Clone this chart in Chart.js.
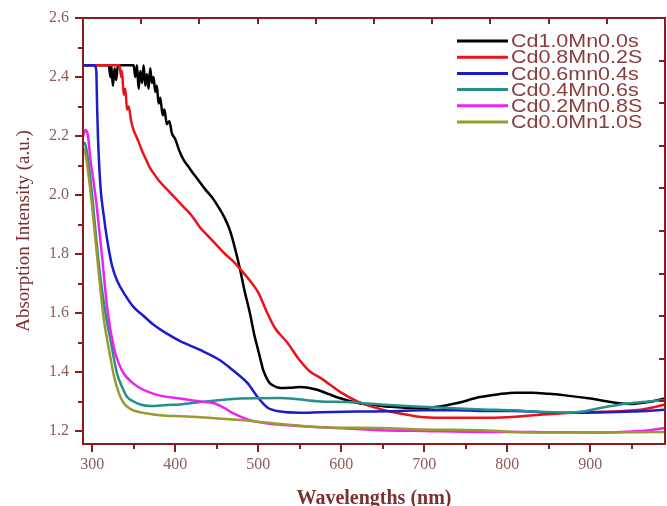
<!DOCTYPE html>
<html><head><meta charset="utf-8">
<script src="https://cdn.jsdelivr.net/npm/chart.js@4.4.1/dist/chart.umd.min.js"></script>
<style>html,body{margin:0;padding:0;background:#fff;}canvas{display:block;}</style>
</head><body>
<canvas id="c" width="667" height="506"></canvas>
<script>
// ---------- data ----------
const seriesNames = ['Cd1.0Mn0.0s','Cd0.8Mn0.2S','Cd0.6mn0.4s','Cd0.4Mn0.6s','Cd0.2Mn0.8S','Cd0.0Mn1.0S'];

const blackNm  = [289,320,322,323,325,327,329,331,350,352,354,356,358,360,362,364,366,368,370,372,374,376,378,380,382,385,387,390,393,396,400,405,410,415,420,428,436,445,452,460,466,472,478,484,490,495,499,503,506,510,514,517,522,527,538,550,560,572,585,600,620,640,660,690,716,740,767,790,810,830,850,872,900,932,950,970,990];
const blackAbs = [2.44,2.44,2.40,2.44,2.37,2.43,2.39,2.44,2.44,2.40,2.44,2.36,2.42,2.38,2.44,2.37,2.41,2.36,2.43,2.38,2.40,2.35,2.37,2.31,2.33,2.27,2.29,2.24,2.25,2.21,2.19,2.15,2.12,2.10,2.08,2.05,2.02,1.99,1.96,1.92,1.88,1.82,1.75,1.67,1.60,1.53,1.485,1.44,1.407,1.38,1.362,1.356,1.349,1.346,1.347,1.349,1.347,1.339,1.325,1.31,1.295,1.288,1.282,1.278,1.282,1.295,1.315,1.325,1.33,1.33,1.326,1.32,1.31,1.295,1.292,1.298,1.31];

const redNm  = [289,333,335,336,338,340,342,344,347,350,353,356,360,365,370,375,380,390,400,410,420,430,440,450,460,470,478,490,500,511,520,535,550,563,575,600,620,640,660,680,700,730,767,800,843,880,912,940,960,975,990];
const redAbs = [2.44,2.44,2.40,2.42,2.34,2.36,2.29,2.30,2.25,2.22,2.20,2.18,2.15,2.12,2.09,2.07,2.05,2.02,1.99,1.96,1.93,1.89,1.86,1.83,1.80,1.775,1.75,1.71,1.67,1.60,1.55,1.50,1.44,1.40,1.38,1.33,1.30,1.28,1.265,1.255,1.247,1.245,1.245,1.247,1.256,1.262,1.265,1.268,1.272,1.28,1.29];

const blueNm  = [289,303,305,306,307,310,314,318,324,330,340,350,362,374,390,406,430,454,470,487,499,511,527,551,575,620,660,700,740,780,810,840,872,910,950,990];
const blueAbs = [2.44,2.44,2.42,2.30,2.20,2.03,1.93,1.85,1.76,1.71,1.66,1.62,1.59,1.56,1.53,1.505,1.475,1.44,1.405,1.363,1.316,1.28,1.266,1.262,1.264,1.266,1.267,1.27,1.27,1.268,1.268,1.264,1.262,1.263,1.266,1.272];

const tealNm  = [289,292,296,300,305,310,316,322,330,336,342,350,358,370,390,406,430,455,478,527,575,607,647,690,728,770,807,840,872,895,912,945,970,990];
const tealAbs = [2.18,2.17,2.10,2.00,1.85,1.72,1.60,1.51,1.395,1.35,1.316,1.30,1.29,1.285,1.288,1.29,1.298,1.305,1.31,1.312,1.30,1.298,1.29,1.283,1.278,1.273,1.27,1.265,1.262,1.268,1.278,1.293,1.30,1.305];

const pinkNm  = [289,292,295,298,302,306,312,318,326,332,338,348,358,370,382,406,430,446,458,470,490,510,530,575,620,647,700,767,800,850,912,950,972,990];
const pinkAbs = [2.20,2.22,2.20,2.12,2.04,1.95,1.79,1.62,1.485,1.43,1.395,1.365,1.345,1.33,1.32,1.31,1.30,1.295,1.28,1.26,1.237,1.226,1.22,1.213,1.207,1.203,1.20,1.197,1.197,1.196,1.195,1.198,1.203,1.21];

const oliveNm  = [289,292,296,300,305,310,314,318,322,326,332,338,346,354,364,374,390,406,430,478,527,575,647,700,767,807,850,912,960,990];
const oliveAbs = [2.16,2.14,2.06,1.96,1.82,1.68,1.58,1.51,1.45,1.39,1.33,1.295,1.275,1.266,1.26,1.256,1.252,1.25,1.247,1.237,1.224,1.213,1.21,1.205,1.203,1.197,1.195,1.195,1.196,1.197];

const xTickLabels = ['300','400','500','600','700','800','900'];
const yTickLabels = ['1.2','1.4','1.6','1.8','2.0','2.2','2.4','2.6'];
const xMinorTicks = [350,450,550,650,750,850,950];
const yMinorTicks = [1.3,1.5,1.7,1.9,2.1,2.3,2.5];

// ---------- styles ----------
const seriesColors = ['#000000','#e8141a','#1c1cc8','#24908a','#ee22ee','#9a9a2e'];
const AXIS = '#8b1c1c';
const TICK_TXT = '#8e5c5c';
const TITLE_TXT = '#7d3030';
const SERIF = '"Liberation Serif", "Times New Roman", serif';

const nmLists = [blackNm, redNm, blueNm, tealNm, pinkNm, oliveNm];
const absLists = [blackAbs, redAbs, blueAbs, tealAbs, pinkAbs, oliveAbs];

const datasets = seriesNames.map((name, i) => ({
  label: name,
  data: nmLists[i].map((x, j) => ({x: x, y: absLists[i][j]})),
  borderColor: seriesColors[i],
  backgroundColor: seriesColors[i],
  borderWidth: 2.5,
  pointRadius: 0,
  fill: false,
  cubicInterpolationMode: 'monotone',
  order: -i
}));

const framePlugin = {
  id: 'frame',
  afterDraw(chart) {
    const {ctx, chartArea: a, scales: {x, y}} = chart;
    ctx.save();
    ctx.strokeStyle = AXIS;
    ctx.lineWidth = 2;
    ctx.strokeRect(a.left, a.top, a.right - a.left, a.bottom - a.top);
    ctx.beginPath();
    xMinorTicks.forEach(v => { const p = Math.round(x.getPixelForValue(v)); ctx.moveTo(p, a.bottom); ctx.lineTo(p, a.bottom + 5); });
    yMinorTicks.forEach(v => { const p = Math.round(y.getPixelForValue(v)); ctx.moveTo(a.left, p); ctx.lineTo(a.left - 5, p); });
    for (let i = 1; i < 10; i++) {
      const px = Math.round(x.getPixelForValue(x.min + i * (x.max - x.min) / 10));
      ctx.moveTo(px, a.top); ctx.lineTo(px, a.top + 6);
      const py = Math.round(y.getPixelForValue(y.min + i * (y.max - y.min) / 10));
      ctx.moveTo(a.right, py); ctx.lineTo(a.right - 6, py);
    }
    ctx.stroke();
    // legend
    ctx.font = '19px "Liberation Sans", Arial, sans-serif';
    ctx.textBaseline = 'middle';
    ctx.textAlign = 'left';
    chart.data.datasets.forEach((ds, i) => {
      const cy = 41 + i * 16.2;
      ctx.strokeStyle = ds.borderColor;
      ctx.lineWidth = 3;
      ctx.beginPath();
      ctx.moveTo(457, cy); ctx.lineTo(508, cy);
      ctx.stroke();
      ctx.save();
      ctx.translate(511, cy + 1);
      ctx.scale(1.13, 1);
      ctx.fillStyle = '#8a3c3c';
      ctx.fillText(ds.label, 0, 0);
      ctx.restore();
    });
    ctx.restore();
  }
};

new Chart(document.getElementById('c'), {
  type: 'line',
  data: {datasets},
  options: {
    responsive: false,
    animation: false,
    events: [],
    layout: {padding: {top: 18, right: 2, left: 0, bottom: 0}},
    plugins: {legend: {display: false}, tooltip: {enabled: false}},
    scales: {
      x: {
        type: 'linear', min: 289, max: 990,
        afterBuildTicks: s => { s.ticks = xTickLabels.map(v => ({value: +v})); },
        afterFit: s => { s.height = 62; },
        ticks: {
          color: TICK_TXT, padding: 3, maxRotation: 0, autoSkip: false,
          font: {family: SERIF, size: 16},
          callback: (v) => xTickLabels.find(t => +t === v) || ''
        },
        grid: {drawOnChartArea: false, drawTicks: true, tickLength: 8, color: AXIS, lineWidth: 2},
        border: {display: true, color: AXIS, width: 2},
        title: {display: true, text: 'Wavelengths (nm)', color: TITLE_TXT, padding: {top: 0, bottom: -5},
          font: {family: SERIF, size: 20, weight: 'bold'}}
      },
      y: {
        type: 'linear', min: 1.156, max: 2.6,
        afterBuildTicks: s => { s.ticks = yTickLabels.map(v => ({value: +v})); },
        afterFit: s => { s.width = 83; },
        ticks: {
          color: TICK_TXT, padding: 6, autoSkip: false,
          font: {family: SERIF, size: 16},
          callback: (v) => yTickLabels.find(t => Math.abs(+t - v) < 1e-6) || ''
        },
        grid: {drawOnChartArea: false, drawTicks: true, tickLength: 8, color: AXIS, lineWidth: 2},
        border: {display: true, color: AXIS, width: 2},
        title: {display: true, text: 'Absorption Intensity (a.u.)', color: TITLE_TXT, padding: {top: 13, bottom: 0},
          font: {family: SERIF, size: 19}}
      }
    }
  },
  plugins: [framePlugin]
});
</script>
</body></html>
